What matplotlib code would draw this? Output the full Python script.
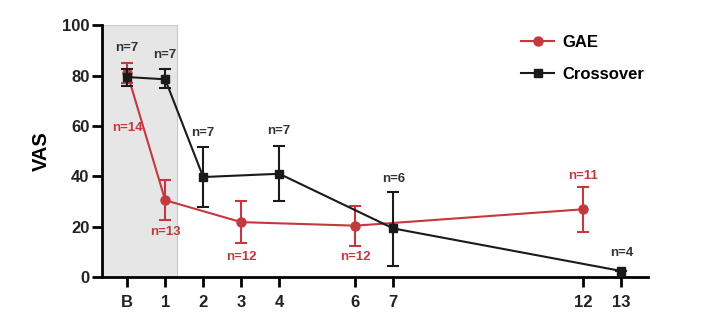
import numpy as np
import matplotlib.pyplot as plt
from matplotlib.lines import Line2D

plt.rcParams['font.family'] = ['Liberation Sans', 'DejaVu Sans']

# visit positions (B = baseline)
positions = [0, 1, 2, 3, 4, 6, 7, 12, 13]
tick_labels = ["B", "1", "2", "3", "4", "6", "7", "12", "13"]

# GAE group
gae_x = [0, 1, 3, 6, 12]
gae_mean = [81, 30.5, 21.8, 20.4, 26.9]
gae_lo = [77, 22.6, 13.5, 12.4, 17.7]
gae_hi = [85, 38.5, 30, 28.2, 35.8]
gae_n = ["n=14", "n=13", "n=12", "n=12", "n=11"]
gae_n_y = [59, 18, 8, 8, 40]

# crossover group
cx_x = [0, 1, 2, 4, 7, 13]
cx_mean = [79.4, 78.5, 39.7, 41, 19.3, 2.4]
cx_lo = [76, 75, 27.8, 30, 4.5, 2.4]
cx_hi = [82.5, 82.5, 51.6, 52, 33.9, 2.4]
cx_n = ["n=7", "n=7", "n=7", "n=7", "n=6", "n=4"]
cx_n_y = [91, 88, 57, 58, 39, 9.5]

red = "#c4383e"
black = "#1a1a1a"

fig = plt.figure(figsize=(7.24, 3.31), dpi=100)
ax = fig.add_axes([0.141, 0.163, 0.754, 0.761])

ax.axvspan(-0.66, 1.32, ymin=0, ymax=1, facecolor="#e6e6e6",
           edgecolor="#c8c8c8", linewidth=0.8, zorder=0)

ax.errorbar(gae_x, gae_mean,
            yerr=[np.subtract(gae_mean, gae_lo), np.subtract(gae_hi, gae_mean)],
            color=red, marker="o", markersize=6.5, linewidth=1.5,
            elinewidth=1.5, capsize=4, capthick=1.5, zorder=3)
ax.errorbar(cx_x, cx_mean,
            yerr=[np.subtract(cx_mean, cx_lo), np.subtract(cx_hi, cx_mean)],
            color=black, marker="s", markersize=6, linewidth=1.5,
            elinewidth=1.5, capsize=4, capthick=1.5, zorder=4)

for x, y, t in zip(gae_x, gae_n_y, gae_n):
    ax.text(x, y, t, color=red, fontsize=9.5, fontweight="bold",
            ha="center", va="center")
for x, y, t in zip(cx_x, cx_n_y, cx_n):
    ax.text(x, y, t, color="#333333", fontsize=9.5, fontweight="bold",
            ha="center", va="center")

ax.set_xlim(-0.66, 13.7)
ax.set_ylim(0, 100)
ax.set_xticks(positions)
ax.set_xticklabels(tick_labels)
ax.set_yticks([0, 20, 40, 60, 80, 100])
ax.set_ylabel("VAS", fontsize=14.5, fontweight="bold", labelpad=8)

for side in ["top", "right"]:
    ax.spines[side].set_visible(False)
for side in ["left", "bottom"]:
    ax.spines[side].set_linewidth(2)
ax.tick_params(axis="both", width=2, length=7, labelsize=12)
ax.tick_params(axis="x", pad=6)
ax.tick_params(axis="y", pad=2)
for lbl in ax.get_xticklabels() + ax.get_yticklabels():
    lbl.set_fontweight("bold")
    lbl.set_color("#222222")

handles = [
    Line2D([], [], color=red, marker="o", markersize=6.5, linewidth=1.5),
    Line2D([], [], color=black, marker="s", markersize=6, linewidth=1.5),
]
ax.legend(handles, ["GAE", "Crossover"], loc="upper left",
          bbox_to_anchor=(0.74, 1.02), frameon=False, handlelength=2,
          handletextpad=0.5, labelspacing=1.0,
          prop={"weight": "bold", "size": 12})

fig.savefig("out.png", dpi=100)
